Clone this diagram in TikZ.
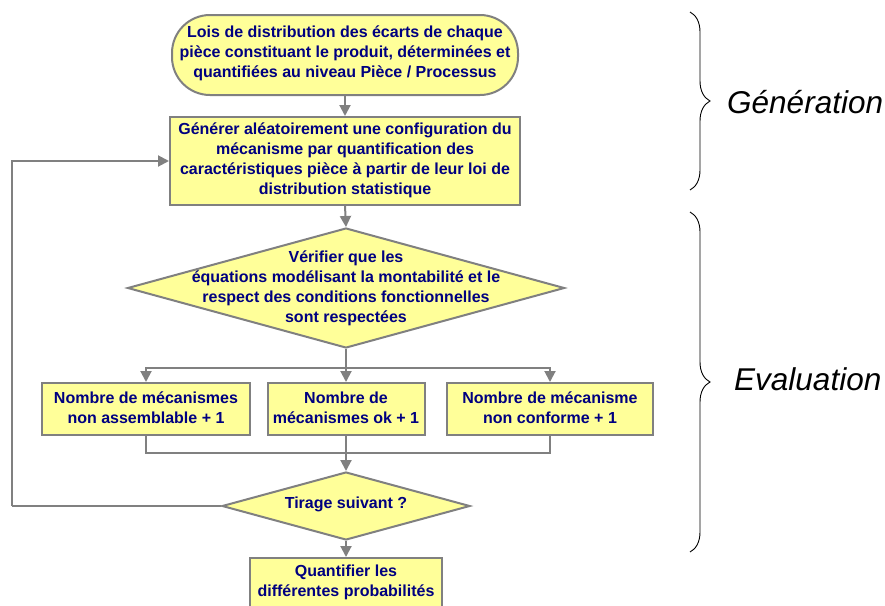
\documentclass[tikz,border=0pt]{standalone}
\usepackage{fontspec}
\setmainfont{Liberation Sans}
\usetikzlibrary{arrows.meta,shapes.geometric,decorations.pathreplacing}
\definecolor{boxfill}{HTML}{FFFF99}
\definecolor{navy}{HTML}{000080}
\definecolor{lgray}{HTML}{808080}
\tikzset{
  base/.style={draw=lgray, line width=2pt, fill=boxfill, inner sep=0pt},
  txt/.style={text=navy, font=\fontsize{16}{20}\selectfont\bfseries, align=center, inner sep=0pt},
  conn/.style={draw=lgray, line width=2pt},
  arr/.style={conn, -{Triangle[length=11pt,width=11pt]}},
  bracel/.style={draw=black, line width=0.9pt, decorate, decoration={brace, amplitude=20pt}},
  sidelabel/.style={font=\fontsize{31.5}{36}\selectfont\itshape, anchor=west, inner sep=0pt}
}
\begin{document}
\begin{tikzpicture}[x=1pt,y=-1pt]
\clip (0,0) rectangle (885,605);
\useasboundingbox (0,0) rectangle (885,605);

% nodes
\node[base, rounded corners=38pt, minimum width=346pt, minimum height=80pt] (start) at (345,55) {};
\node[txt] (starttxt) at (345,53) {Lois de distribution des écarts de chaque\\pièce constituant le produit, déterminées et\\quantifiées au niveau Pièce / Processus};

\node[base, minimum width=350pt, minimum height=88pt] (gen) at (345,161) {};
\node[txt] (gentxt) at (345,160) {Générer aléatoirement une configuration du\\mécanisme par quantification des\\caractéristiques pièce à partir de leur loi de\\distribution statistique};

\node[base, shape=diamond, minimum width=437pt, minimum height=120pt] (verif) at (346,288) {};
\node[txt] (veriftxt) at (346,288) {Vérifier que les\\équations modélisant la montabilité et le\\respect des conditions fonctionnelles\\sont respectées};

\node[base, minimum width=208pt, minimum height=52pt] (bA) at (146,409) {};
\node[txt] (bAtxt) at (146,408) {Nombre de mécanismes\\non assemblable + 1};
\node[base, minimum width=157pt, minimum height=52pt] (bB) at (346,409) {};
\node[txt] (bBtxt) at (346,408) {Nombre de\\mécanismes ok + 1};
\node[base, minimum width=206pt, minimum height=52pt] (bC) at (550,409) {};
\node[txt] (bCtxt) at (550,408) {Nombre de mécanisme\\non conforme + 1};

\node[base, shape=diamond, minimum width=248pt, minimum height=68pt] (tir) at (346,506) {};
\node[txt] (tirtxt) at (346,504) {Tirage suivant ?};

\node[base, minimum width=192pt, minimum height=56pt] (fin) at (346,586) {};
\node[txt] (fintxt) at (346,582) {Quantifier les\\différentes probabilités};

% coordinates
\coordinate (s1) at (346,368);
\coordinate (m1) at (346,453);
\coordinate (lp) at (12,506);

% connectors
\draw[arr] (start.south) -- (gen.north);
\draw[arr] (gen.south) -- (verif.north);
\draw[conn] (verif.south) -- (s1);
\draw[arr] (s1) -| (bA.north);
\draw[arr] (s1) -| (bC.north);
\draw[arr] (s1) -- (bB.north);
\draw[conn] (bA.south) |- (m1);
\draw[conn] (bC.south) |- (m1);
\draw[conn] (bB.south) -- (m1);
\draw[arr] (m1) -- (tir.north);
\draw[arr] (tir.south) -- (fin.north);
\draw[conn] (tir.west) -- (lp);
\draw[arr] (lp) |- (gen.west);

% braces
\coordinate (g1) at (690,12);
\coordinate (g2) at (690,190);
\coordinate (e1) at (690,212);
\coordinate (e2) at (690,552);
\draw[bracel] (g1) -- (g2);
\draw[bracel] (e1) -- (e2);
\node[sidelabel] (glab) at (727,102) {Génération};
\node[sidelabel] (elab) at (734,379) {Evaluation};
\end{tikzpicture}
\end{document}
